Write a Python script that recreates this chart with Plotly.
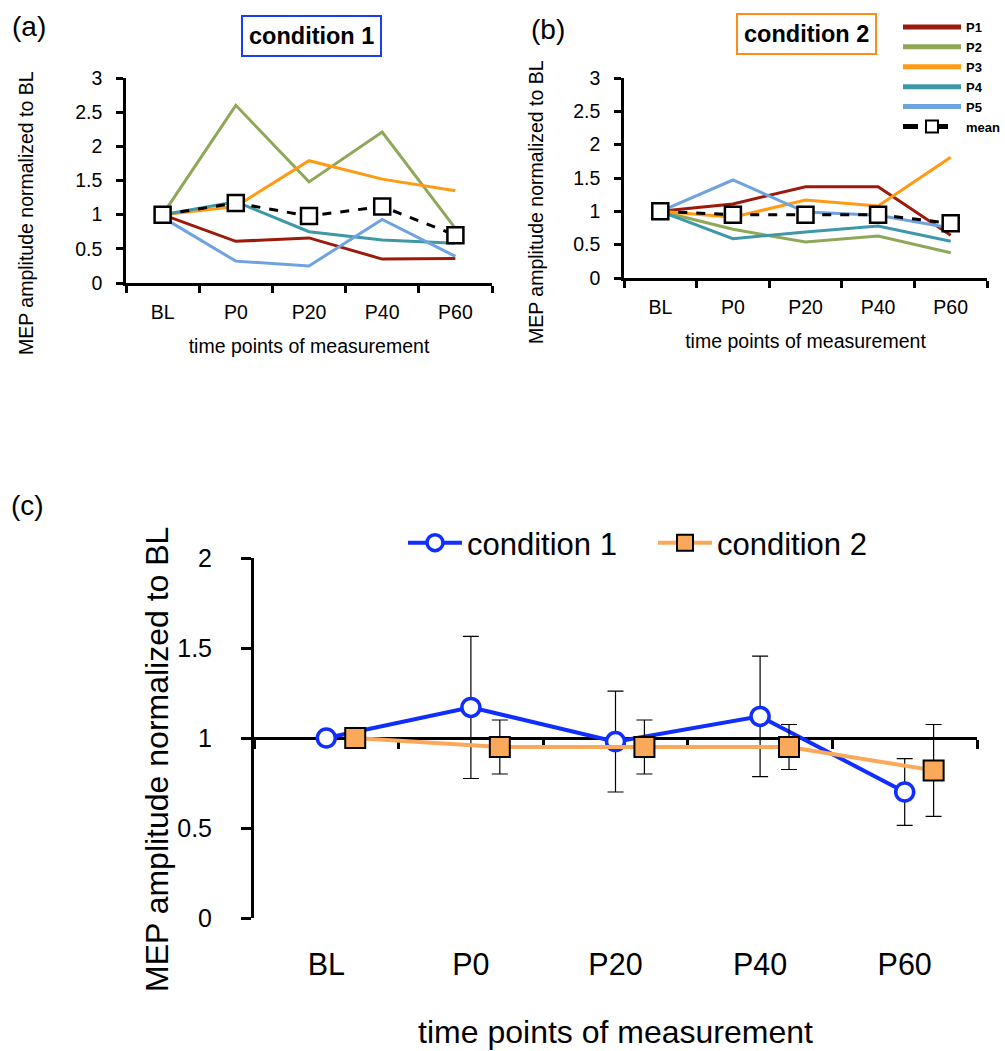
import plotly.graph_objects as go

W, H = 1005, 1051

categories = ["BL", "P0", "P20", "P40", "P60"]
participants = ["P1", "P2", "P3", "P4", "P5"]

# condition 1 (panel a) individual participants
cond1_P1 = [1.0, 0.61, 0.66, 0.35, 0.36]
cond1_P2 = [1.0, 2.60, 1.48, 2.21, 0.80]
cond1_P3 = [1.0, 1.12, 1.79, 1.52, 1.35]
cond1_P4 = [1.0, 1.19, 0.75, 0.63, 0.58]
cond1_P5 = [0.96, 0.32, 0.25, 0.93, 0.39]
cond1_mean = [1.0, 1.17, 0.98, 1.12, 0.70]
cond1_sd = [None, 0.395, 0.28, 0.335, 0.185]

# condition 2 (panel b) individual participants
cond2_P1 = [1.0, 1.11, 1.37, 1.37, 0.64]
cond2_P2 = [1.0, 0.73, 0.54, 0.63, 0.38]
cond2_P3 = [1.0, 0.91, 1.17, 1.08, 1.81]
cond2_P4 = [1.0, 0.59, 0.69, 0.78, 0.55]
cond2_P5 = [1.0, 1.47, 0.99, 0.94, 0.75]
cond2_mean = [1.0, 0.95, 0.95, 0.95, 0.82]
cond2_sd = [None, 0.15, 0.15, 0.125, 0.255]

y_title = "MEP amplitude normalized to BL"
x_title = "time points of measurement"

# ---- styles ----
part_colors = ["#9B1A0C", "#8FA857", "#FF9A12", "#3F98A8", "#6FA3DF"]
C1 = "#0F2EFF"
C2 = "#FAA85A"
NARROW = "Liberation Sans, Arial, sans-serif"
REG = "Liberation Sans, Arial, sans-serif"
FS_SMALL = 19.5


def px_x(p):
    return p / W


def px_y(p):
    return 1 - p / H


idx = list(range(len(categories)))
bounds = [i - 0.5 for i in range(len(categories) + 1)]
c2_offset = 0.2
idx2 = [i + c2_offset for i in idx]

fig = go.Figure()

cond1_parts = [cond1_P1, cond1_P2, cond1_P3, cond1_P4, cond1_P5]
cond2_parts = [cond2_P1, cond2_P2, cond2_P3, cond2_P4, cond2_P5]

for name, vals, col in zip(participants, cond1_parts, part_colors):
    fig.add_trace(go.Scatter(x=idx, y=vals, mode="lines", name=name,
                             line=dict(color=col, width=3),
                             xaxis="x", yaxis="y", showlegend=False))
fig.add_trace(go.Scatter(x=idx, y=cond1_mean, mode="lines+markers", name="mean",
                         line=dict(color="black", width=3, dash="dash"),
                         marker=dict(symbol="square", size=16, color="white",
                                     line=dict(color="black", width=2.5)),
                         xaxis="x", yaxis="y", showlegend=False))

for name, vals, col in zip(participants, cond2_parts, part_colors):
    fig.add_trace(go.Scatter(x=idx, y=vals, mode="lines", name=name,
                             line=dict(color=col, width=3),
                             xaxis="x2", yaxis="y2", legend="legend"))
fig.add_trace(go.Scatter(x=idx, y=cond2_mean, mode="lines+markers", name="mean",
                         line=dict(color="black", width=3, dash="dash"),
                         marker=dict(symbol="square", size=16, color="white",
                                     line=dict(color="black", width=2.5)),
                         xaxis="x2", yaxis="y2", legend="legend"))

# panel c
fig.add_trace(go.Scatter(x=idx, y=cond1_mean, mode="lines+markers", name="condition 1",
                         line=dict(color=C1, width=4),
                         marker=dict(symbol="circle", size=18, color="white",
                                     line=dict(color=C1, width=3.5)),
                         error_y=dict(type="data", array=cond1_sd, color="black",
                                      thickness=1.2, width=8),
                         xaxis="x3", yaxis="y3", legend="legend2"))
fig.add_trace(go.Scatter(x=idx2, y=cond2_mean, mode="lines+markers", name="condition 2",
                         line=dict(color=C2, width=4),
                         marker=dict(symbol="square", size=20, color=C2,
                                     line=dict(color="black", width=2)),
                         error_y=dict(type="data", array=cond2_sd, color="black",
                                      thickness=1.2, width=8),
                         xaxis="x3", yaxis="y3", legend="legend2"))

small_x = dict(range=[-0.5, 4.5], tickmode="array", tickvals=idx, ticktext=categories,
               ticks="", showline=True, linecolor="black", linewidth=2.5,
               showgrid=False, zeroline=False, ticklabelstandoff=10,
               tickfont=dict(family=NARROW, size=FS_SMALL, color="black"),
               minor=dict(tickmode="array", tickvals=bounds, ticks="outside",
                          ticklen=7, tickwidth=2.5, tickcolor="black", showgrid=False),
               title=dict(text=x_title, font=dict(family=NARROW, size=FS_SMALL, color="black"),
                          standoff=18))
small_y = dict(range=[0, 3], dtick=0.5, ticks="outside", ticklen=7, tickwidth=2.5,
               tickcolor="black", showline=True, linecolor="black", linewidth=2.5,
               showgrid=False, zeroline=False, ticklabelstandoff=10,
               tickfont=dict(family=NARROW, size=FS_SMALL, color="black"))

fig.update_layout(
    width=W, height=H, margin=dict(l=0, r=0, t=0, b=0, autoexpand=False),
    paper_bgcolor="white", plot_bgcolor="white",
    xaxis=dict(domain=[px_x(126), px_x(492)], anchor="y", **small_x),
    yaxis=dict(domain=[px_y(283), px_y(78)], anchor="x", **small_y),
    xaxis2=dict(domain=[px_x(624), px_x(987)], anchor="y2", **small_x),
    yaxis2=dict(domain=[px_y(278), px_y(78)], anchor="x2", **small_y),
    xaxis3=dict(domain=[px_x(254), px_x(977)], anchor="free",
                position=(px_y(918) + px_y(558)) / 2,
                range=[-0.5, 4.5], tickmode="array", tickvals=idx, ticktext=categories,
                ticks="", showline=True, linecolor="black", linewidth=3,
                layer="below traces", showgrid=False, zeroline=False,
                ticklabelstandoff=198,
                tickfont=dict(family=NARROW, size=30.5, color="black"),
                minor=dict(tickmode="array", tickvals=bounds, ticks="outside",
                           ticklen=9, tickwidth=3, tickcolor="black", showgrid=False),
                title=dict(text=x_title, font=dict(family=NARROW, size=32, color="black"),
                           standoff=41)),
    yaxis3=dict(domain=[px_y(918), px_y(558)], anchor="x3",
                range=[0, 2], dtick=0.5, ticks="outside", ticklen=10, tickwidth=3,
                tickcolor="black", showline=True, linecolor="black", linewidth=3,
                showgrid=False, zeroline=False, ticklabelstandoff=24,
                tickfont=dict(family=NARROW, size=25, color="black")),
    legend=dict(x=px_x(898), y=px_y(12), xanchor="left", yanchor="top",
                font=dict(family=REG, size=13, color="black", weight="bold"),
                tracegroupgap=0, itemwidth=58, itemsizing="constant",
                bgcolor="rgba(0,0,0,0)", borderwidth=0),
    legend2=dict(orientation="h", x=px_x(403), y=px_y(543), xanchor="left",
                 yanchor="middle", font=dict(family=REG, size=31, color="black"),
                 itemwidth=54, entrywidth=181, entrywidthmode="pixels",
                 bgcolor="rgba(0,0,0,0)"),
    showlegend=True,
)

annos = [
    dict(text="(a)", x=px_x(29), y=px_y(27), font=dict(family=REG, size=28)),
    dict(text="(b)", x=px_x(548), y=px_y(30), font=dict(family=REG, size=28)),
    dict(text="(c)", x=px_x(27), y=px_y(505), font=dict(family=REG, size=28)),
    dict(text="<b>condition 1</b>", x=px_x(311), y=px_y(36),
         font=dict(family=REG, size=23.5), bordercolor="#1A3CF5", borderwidth=2,
         borderpad=6),
    dict(text="<b>condition 2</b>", x=px_x(806), y=px_y(34),
         font=dict(family=REG, size=23.5), bordercolor="#FF8C1A", borderwidth=2,
         borderpad=6),
    dict(text=y_title, x=px_x(26), y=px_y(213), textangle=-90,
         font=dict(family=NARROW, size=FS_SMALL)),
    dict(text=y_title, x=px_x(536), y=px_y(202), textangle=-90,
         font=dict(family=NARROW, size=FS_SMALL)),
    dict(text=y_title, x=px_x(157), y=px_y(760), textangle=-90,
         font=dict(family=NARROW, size=32)),
]
for a in annos:
    a.update(xref="paper", yref="paper", showarrow=False,
             xanchor="center", yanchor="middle")
    a["font"]["color"] = "black"
    fig.add_annotation(**a)

fig.write_html("out.html", config={"displayModeBar": False},
               post_script="document.body.style.margin='0';")
